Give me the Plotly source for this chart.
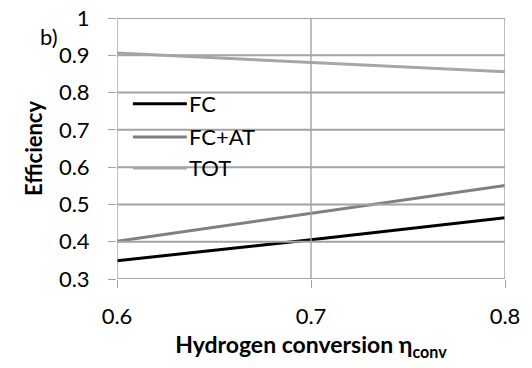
import plotly.graph_objects as go

x_conv = [0.6, 0.7, 0.8]
fc = [0.349, 0.405, 0.464]
fc_at = [0.401, 0.476, 0.551]
tot = [0.906, 0.880, 0.856]

series_names = ["FC", "FC+AT", "TOT"]
series_colors = ["#000000", "#808080", "#a6a6a6"]
x_ticks = [0.6, 0.7, 0.8]
x_tick_labels = ["0.6", "0.7", "0.8"]
y_ticks = [0.3, 0.4, 0.5, 0.6, 0.7, 0.8, 0.9, 1.0]
y_tick_labels = ["0.3", "0.4", "0.5", "0.6", "0.7", "0.8", "0.9", "1"]
legend_y = [0.770, 0.681, 0.598]

font_family = "Lato, Open Sans, sans-serif"
grid_color = "#a3a3a3"
fs = 22

fig = go.Figure()
for name, vals, col in zip(series_names, [fc, fc_at, tot], series_colors):
    fig.add_trace(go.Scatter(x=x_conv, y=vals, mode="lines", name=name,
                             line=dict(color=col, width=3), showlegend=False))

shapes = []
for yv in y_ticks:
    shapes.append(dict(type="line", xref="x", yref="y", x0=x_ticks[0], x1=x_ticks[-1], y0=yv, y1=yv,
                       line=dict(color=grid_color, width=2)))
for xv in x_ticks:
    shapes.append(dict(type="line", xref="x", yref="y", x0=xv, x1=xv, y0=y_ticks[0], y1=y_ticks[-1],
                       line=dict(color=grid_color, width=1.4)))

annotations = [dict(text="b)", x=-0.204, y=0.93, xref="paper", yref="paper",
                    showarrow=False, font=dict(size=fs), xanchor="left", yanchor="middle")]
# manual legend
for name, col, ly in zip(series_names, series_colors, legend_y):
    shapes.append(dict(type="line", xref="paper", yref="y", x0=0.041, x1=0.180, y0=ly, y1=ly,
                       line=dict(color=col, width=3)))
    annotations.append(dict(text=name, x=0.181, y=ly, xref="paper", yref="y",
                            showarrow=False, xanchor="left", yanchor="middle",
                            font=dict(size=fs)))

fig.update_layout(
    width=532, height=368,
    margin=dict(l=117, r=27, t=18, b=89),
    paper_bgcolor="white", plot_bgcolor="white",
    font=dict(family=font_family, size=fs, color="#000000"),
    showlegend=False,
    shapes=shapes,
    annotations=annotations,
)
fig.update_xaxes(range=[0.6, 0.8], tickvals=x_ticks, ticktext=x_tick_labels,
                 showgrid=False, ticks="outside", ticklen=8, tickcolor=grid_color, tickwidth=1.4,
                 zeroline=False, showline=False, ticklabelstandoff=10, automargin=False,
                 title=dict(text="<b>Hydrogen conversion η<sub>conv</sub></b>",
                            font=dict(size=23), standoff=8))
fig.update_yaxes(range=[0.3, 1.0], tickvals=y_ticks, ticktext=y_tick_labels,
                 showgrid=False, ticks="outside", ticklen=8, tickcolor=grid_color, tickwidth=1.4,
                 zeroline=False, showline=False, ticklabelstandoff=14, automargin=False,
                 title=dict(text="<b>Efficiency</b>", font=dict(size=fs), standoff=10))

fig.write_html("out.html")
